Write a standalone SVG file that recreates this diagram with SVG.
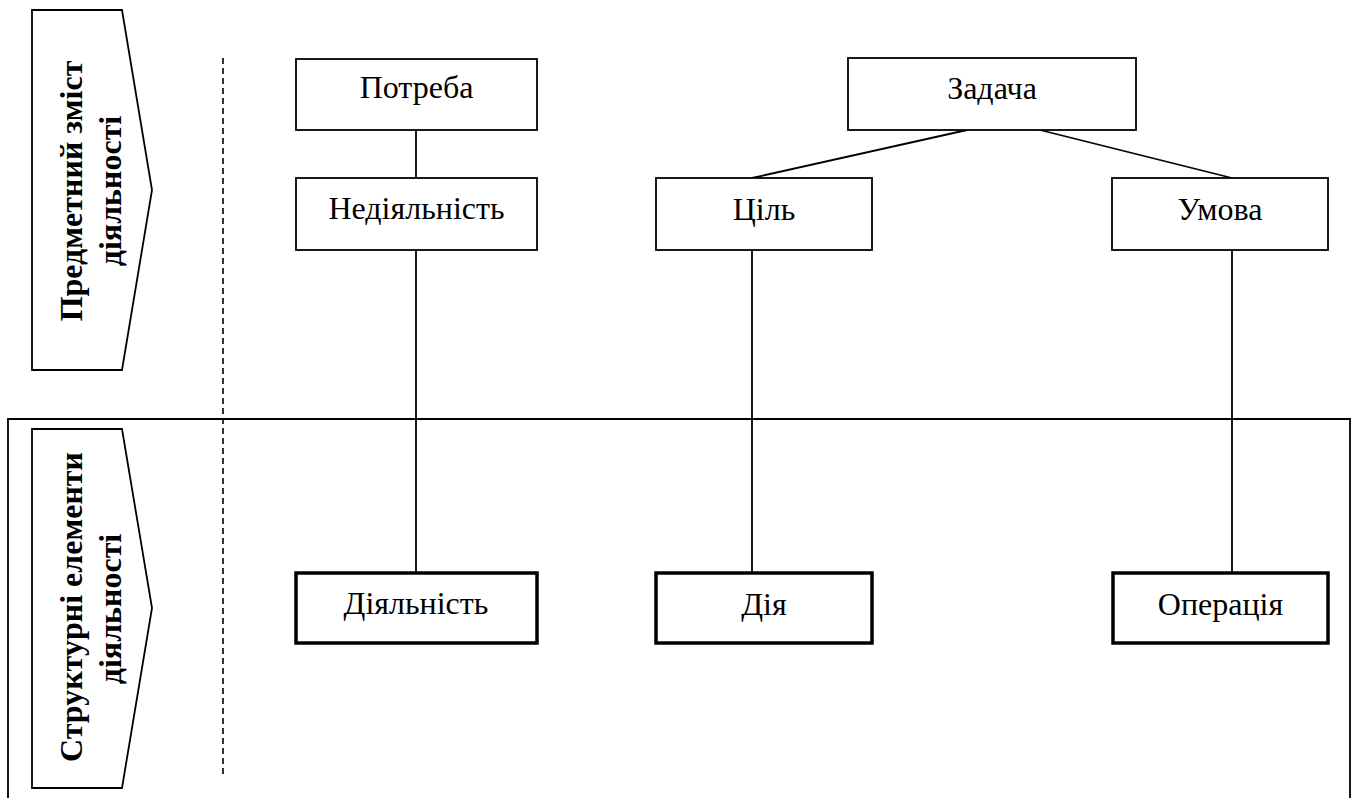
<svg xmlns="http://www.w3.org/2000/svg" width="1357" height="798" viewBox="0 0 1357 798">
<style>
.box{fill:#fff;stroke:#000;stroke-width:1.8}
.bbox{fill:#fff;stroke:#000;stroke-width:3.5}
.pent{fill:#fff;stroke:#000;stroke-width:1.8}
.lbl{font-size:32px;fill:#000;text-anchor:middle}
.side{font-size:32px;font-weight:bold;fill:#000;text-anchor:middle}
.conn{stroke:#000;stroke-width:1.8;fill:none}
</style>
<rect width="1357" height="798" fill="#fff"/>
<path id="frame" d="M8,798 V419 H1350 V798" fill="none" stroke="#000" stroke-width="1.8"/>
<line id="divider" x1="223" y1="58" x2="223" y2="778" stroke="#000" stroke-width="1.6" stroke-dasharray="6,4"/>
<g font-family="Liberation Serif, DejaVu Serif, serif">
<g id="side-top">
<polygon class="pent" points="32,10 122,10 152,190 122,370 32,370"/>
<text class="side" transform="translate(82,191) rotate(-90)">Предметний зміст</text>
<text class="side" transform="translate(121,191) rotate(-90)">діяльності</text>
</g>
<g id="side-bottom">
<polygon class="pent" points="32,429 122,429 152,608 122,788 32,788"/>
<text class="side" transform="translate(82,607) rotate(-90)">Структурні елементи</text>
<text class="side" transform="translate(121,609) rotate(-90)">діяльності</text>
</g>
<g id="connectors">
<line class="conn" x1="416" y1="130" x2="416" y2="178"/>
<line class="conn" x1="416" y1="250" x2="416" y2="572"/>
<line class="conn" x1="967" y1="130" x2="752" y2="178"/>
<line class="conn" x1="1040" y1="130" x2="1232" y2="178"/>
<line class="conn" x1="752" y1="250" x2="752" y2="572"/>
<line class="conn" x1="1232" y1="250" x2="1232" y2="573"/>
</g>
<g id="potreba"><rect class="box" x="296" y="59" width="241" height="71"/><text class="lbl" x="416.5" y="98">Потреба</text></g>
<g id="zadacha"><rect class="box" x="848" y="58" width="288" height="72"/><text class="lbl" x="992" y="99">Задача</text></g>
<g id="nediyalnist"><rect class="box" x="296" y="178" width="241" height="72"/><text class="lbl" x="416.5" y="219">Недіяльність</text></g>
<g id="tsil"><rect class="box" x="656" y="178" width="216" height="72"/><text class="lbl" x="764" y="220">Ціль</text></g>
<g id="umova"><rect class="box" x="1112" y="178" width="216" height="72"/><text class="lbl" x="1220" y="220">Умова</text></g>
<g id="diyalnist"><rect class="bbox" x="296" y="573" width="241" height="70"/><text class="lbl" x="416" y="614">Діяльність</text></g>
<g id="diya"><rect class="bbox" x="656" y="573" width="216" height="70"/><text class="lbl" x="764" y="615">Дія</text></g>
<g id="operatsiya"><rect class="bbox" x="1113" y="573" width="215" height="70"/><text class="lbl" x="1220.5" y="615">Операція</text></g>
</g>
</svg>
